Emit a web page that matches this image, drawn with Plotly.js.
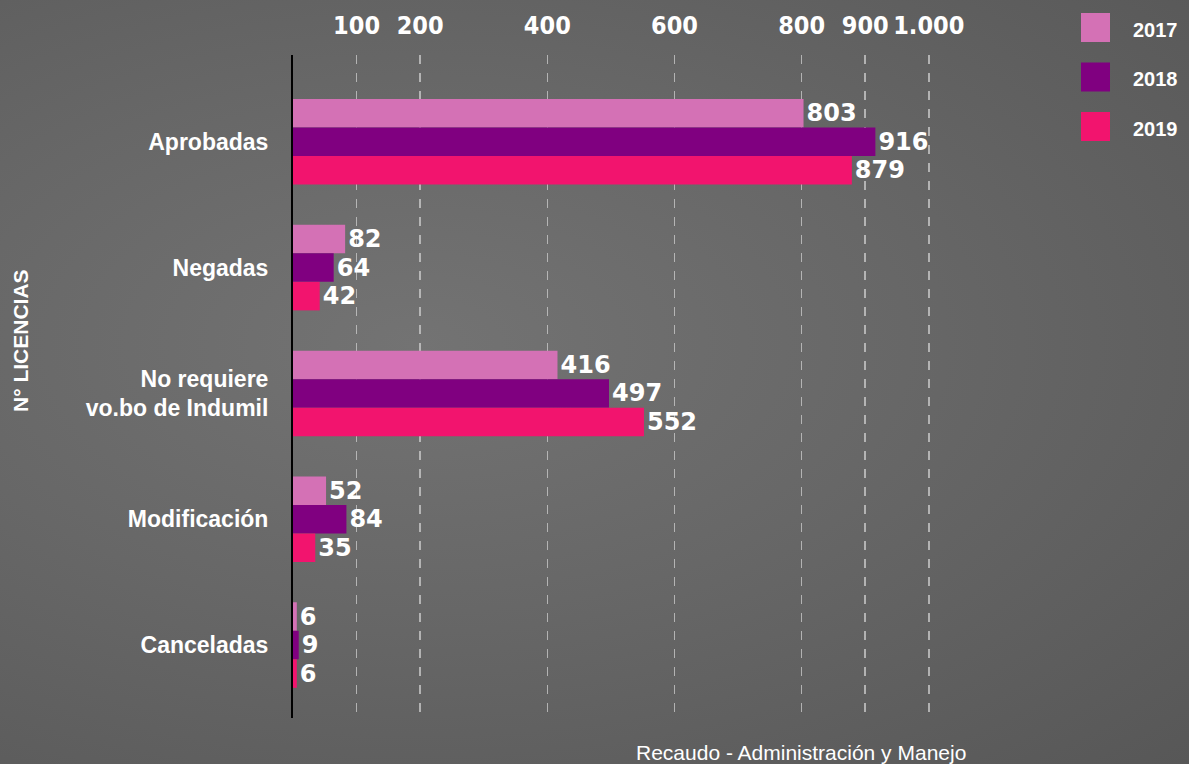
<!DOCTYPE html>
<html>
<head>
<meta charset="utf-8">
<script src="https://cdn.plot.ly/plotly-3.0.1.min.js"></script>
<style>
  html, body { margin: 0; padding: 0; }
  body {
    width: 1189px; height: 764px; overflow: hidden;
    background: radial-gradient(ellipse at 35% 45%, #737373 0%, #676767 45%, #575757 100%);
  }
  #chart { width: 1189px; height: 764px; }
</style>
</head>
<body>
<div id="chart"></div>
<script>
// ---- data ----
const categories = ["Aprobadas", "Negadas", "No requiere<br>vo.bo de Indumil", "Modificación", "Canceladas"];
const years = ["2017", "2018", "2019"];
const values2017 = [803, 82, 416, 52, 6];
const values2018 = [916, 64, 497, 84, 9];
const values2019 = [879, 42, 552, 35, 6];
const tickValues = [100, 200, 400, 600, 800, 900, 1000];
const tickLabels = ["100", "200", "400", "600", "800", "900", "1.000"];
const colors = ["#d471b5", "#800080", "#f2146e"];
const seriesValues = [values2017, values2018, values2019];

// ---- layout helpers ----
const W = 1189, H = 764;
const M = { l: 293, r: 189, t: 55, b: 46 };
const PW = W - M.l - M.r, PH = H - M.t - M.b;
const px = x => (x - M.l) / PW;
const py = y => (H - M.b - y) / PH;

const labelFont = "DejaVu Sans, sans-serif";

const traces = years.map((yr, i) => ({
  type: "bar",
  orientation: "h",
  name: yr,
  y: categories,
  x: seriesValues[i],
  marker: { color: colors[i] },
  text: seriesValues[i].map(v => String(v)),
  textposition: "outside",
  constraintext: "none",
  cliponaxis: false,
  outsidetextfont: { family: labelFont, size: 24, color: "#ffffff", weight: "bold" },
  showlegend: false,
  hovertemplate: "%{y}: %{x}<extra>" + yr + "</extra>"
}));

const shapes = [];
const annotations = [];
years.forEach((yr, i) => {
  const top = 13 + i * 49.5;
  shapes.push({
    type: "rect", xref: "paper", yref: "paper",
    x0: px(1081), x1: px(1110), y0: py(top + 29), y1: py(top),
    fillcolor: colors[i], line: { width: 0 }
  });
  annotations.push({
    xref: "paper", yref: "paper", x: px(1131), y: py(top + 17),
    xanchor: "left", yanchor: "middle", showarrow: false,
    text: "<b>" + yr + "</b>",
    font: { family: "Liberation Sans, Arial, sans-serif", size: 20, color: "#ffffff" }
  });
});
annotations.push({
  xref: "paper", yref: "paper", x: px(20), y: py(341),
  xanchor: "center", yanchor: "middle", showarrow: false, textangle: -90,
  text: "<b>N° LICENCIAS</b>",
  font: { family: "Liberation Sans, Arial, sans-serif", size: 21, color: "#ffffff" }
});
annotations.push({
  xref: "paper", yref: "paper", x: px(801), y: py(752),
  xanchor: "center", yanchor: "middle", showarrow: false,
  text: "Recaudo - Administración y Manejo",
  font: { family: "Liberation Sans, Arial, sans-serif", size: 21, color: "#ffffff" }
});

const layout = {
  width: W, height: H,
  margin: M,
  paper_bgcolor: "rgba(0,0,0,0)",
  plot_bgcolor: "rgba(0,0,0,0)",
  barmode: "group",
  bargap: 0.32,
  bargroupgap: 0,
  showlegend: false,
  xaxis: {
    side: "top",
    range: [0, 1112],
    tickmode: "array",
    tickvals: tickValues,
    ticktext: tickLabels,
    tickangle: 0,
    tickfont: { family: "Liberation Sans Narrow, DejaVu Sans Condensed, sans-serif", size: 25, color: "#ffffff", weight: "bold" },
    ticks: "",
    ticklabelstandoff: 15,
    showgrid: true,
    gridcolor: "rgba(205,205,205,0.75)",
    gridwidth: 1.5,
    griddash: "dash",
    zeroline: false,
    showline: false,
    fixedrange: true
  },
  yaxis: {
    type: "category",
    range: [4.58, -0.69],
    tickfont: { family: "Liberation Sans, Arial, sans-serif", size: 23, color: "#ffffff", weight: "bold" },
    ticks: "",
    ticklabelstandoff: 18,
    showgrid: false,
    zeroline: false,
    showline: true,
    linecolor: "#000000",
    linewidth: 2,
    fixedrange: true
  },
  shapes: shapes,
  annotations: annotations
};

Plotly.newPlot("chart", traces, layout, { displayModeBar: false, staticPlot: true });
</script>
</body>
</html>
